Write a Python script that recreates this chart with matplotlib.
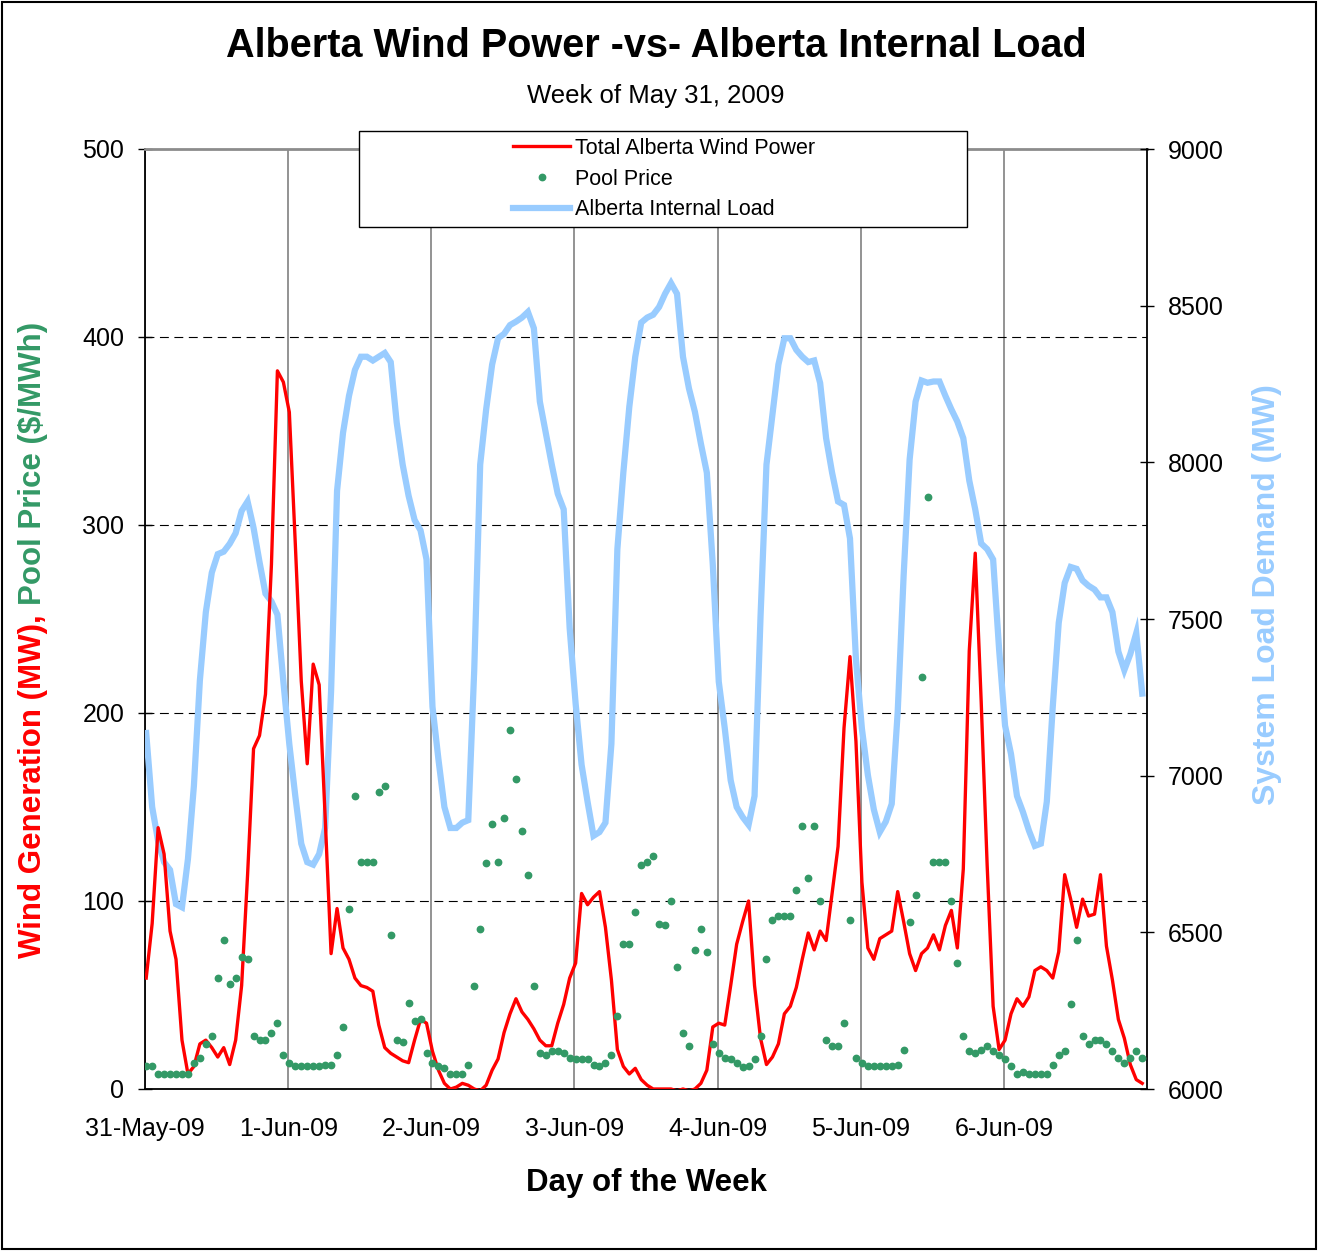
import matplotlib
matplotlib.use('Agg')
import matplotlib.pyplot as plt
import numpy as np
from matplotlib.patches import Rectangle
from matplotlib.lines import Line2D

plt.rcParams['font.family'] = ['Liberation Sans', 'DejaVu Sans']

W, H = 1318, 1251

day_labels = ['31-May-09', '1-Jun-09', '2-Jun-09', '3-Jun-09',
              '4-Jun-09', '5-Jun-09', '6-Jun-09']

# hourly values, 31 May 00:00 -> 6 Jun 23:00
wind = [59, 88, 139, 125, 84, 69, 26, 8, 12, 24, 26, 22, 17, 22, 13, 26, 55, 114, 181, 188, 210, 279, 382, 376,
        360, 290, 217, 173, 226, 215, 145, 72, 96, 75, 69, 59, 55, 54, 52, 34, 22, 19, 17, 15, 14, 26, 37, 35,
        20, 10, 3, 0, 1, 3, 2, 0, -1, 2, 10, 16, 30, 40, 48, 41, 37, 32, 26, 23, 23, 35, 45, 59,
        67, 104, 98, 102, 105, 86, 58, 21, 12, 8, 11, 5, 2, 0, 0, 0, 0, -1, 0, -1, 0, 3, 10, 33,
        35, 34, 55, 77, 89, 100, 55, 27, 13, 17, 24, 40, 44, 54, 69, 83, 74, 84, 79, 104, 129, 192, 230, 185,
        110, 75, 69, 80, 82, 84, 105, 89, 72, 63, 72, 75, 82, 74, 87, 95, 75, 117, 233, 285, 206, 119, 44, 21,
        26, 40, 48, 44, 49, 63, 65, 63, 59, 73, 114, 101, 86, 101, 92, 93, 114, 76, 58, 37, 27, 13, 5, 3]

price = [12, 12, 8, 8, 8, 8, 8, 8, 14, 16.5, 24, 28, 59, 79, 56, 59, 70, 69, 28, 26, 26, 30, 35, 18,
         14, 12, 12, 12, 12, 12, 13, 13, 18, 33, 96, 156, 121, 121, 121, 158, 161, 82, 26, 25, 46, 36, 37, 19,
         14, 12, 11, 8, 8, 8, 13, 55, 85, 120, 141, 121, 144, 191, 165, 137, 114, 55, 19, 18, 20, 20, 19, 16.5,
         16, 16, 16, 13, 12, 14, 18, 39, 77, 77, 94, 119, 121, 124, 88, 87, 100, 65, 30, 23, 74, 85, 73, 24,
         19, 16.5, 16, 14, 11.5, 12, 16, 28, 69, 90, 92, 92, 92, 106, 140, 112, 140, 100, 26, 23, 23, 35, 90, 16.5,
         14, 12, 12, 12, 12, 12, 13, 21, 89, 103, 219, 315, 121, 121, 121, 100, 67, 28, 20, 19, 21, 23, 20, 18,
         16, 12, 8, 9, 8, 8, 8, 8, 13, 18, 20, 45, 79, 28, 24, 26, 26, 24, 20, 16.5, 14, 16.5, 20, 16.5]

load = [7136, 6900, 6791, 6724, 6699, 6590, 6580, 6734, 6968, 7304, 7522, 7648, 7707, 7715, 7740, 7774, 7845, 7875, 7791, 7682, 7581, 7556, 7514, 7300,
        7100, 6935, 6783, 6724, 6716, 6750, 6833, 7270, 7909, 8094, 8212, 8295, 8337, 8337, 8325, 8337, 8349, 8320, 8127, 7993, 7893, 7816, 7783, 7690,
        7220, 7052, 6900, 6833, 6833, 6850, 6858, 7337, 7993, 8169, 8312, 8396, 8410, 8438, 8449, 8462, 8480, 8428, 8194, 8094, 7993, 7900, 7850, 7471,
        7230, 7035, 6917, 6808, 6820, 6850, 7102, 7723, 7967, 8177, 8337, 8446, 8462, 8471, 8496, 8538, 8572, 8538, 8337, 8236, 8161, 8060, 7967, 7673,
        7300, 7152, 6985, 6900, 6868, 6843, 6935, 7506, 7993, 8152, 8312, 8396, 8396, 8359, 8337, 8320, 8325, 8253, 8077, 7967, 7875, 7864, 7757, 7371,
        7150, 7002, 6892, 6820, 6853, 6910, 7203, 7640, 8009, 8194, 8261, 8254, 8258, 8258, 8212, 8169, 8130, 8077, 7942, 7850, 7741, 7723, 7690, 7404,
        7160, 7069, 6935, 6884, 6825, 6776, 6783, 6917, 7220, 7488, 7615, 7666, 7660, 7623, 7606, 7594, 7569, 7569, 7522, 7396, 7337, 7388, 7455, 7262]

hours = np.arange(len(wind)) + 0.2

RED = '#FF0000'
GREEN = '#339966'
BLUE = '#99CCFF'

fig = plt.figure(figsize=(W / 100, H / 100), dpi=100)
rect = [145 / W, 1 - 1089 / H, (1147 - 145) / W, (1089 - 149) / H]

# bottom axes: grid, spines, left ticks
ax = fig.add_axes(rect)
ax.set_xlim(0, 168)
ax.set_ylim(0, 500)
ax.set_xticks(np.arange(0, 168, 24))
ax.set_xticklabels(day_labels)
ax.set_yticks(np.arange(0, 501, 100))
ax.xaxis.grid(True, color='#808080', lw=1.2, ls='-')
ax.yaxis.grid(True, color='black', lw=0.8, ls=(0, (8, 5)))
ax.tick_params(axis='x', length=0, labelsize=18, pad=20)
ax.tick_params(axis='y', direction='inout', length=10, width=1, labelsize=18, pad=10)
ax.spines['left'].set_linewidth(1.3)
ax.spines['bottom'].set_linewidth(1.3)
ax.spines['top'].set_color('#8c8c8c')
ax.spines['top'].set_linewidth(2)
ax.spines['right'].set_visible(False)

# load on right axis
ax2 = ax.twinx()
ax2.set_ylim(6000, 9000)
ax2.set_yticks(np.arange(6000, 9001, 500))
ax2.plot(hours, load, color=BLUE, lw=4.5, solid_joinstyle='miter')
ax2.tick_params(axis='y', direction='inout', length=10, width=1, labelsize=18, pad=10)
for s in ['left', 'top', 'bottom']:
    ax2.spines[s].set_visible(False)
ax2.spines['right'].set_linewidth(1.3)
ax2.set_zorder(1)

# wind and price on top
ax3 = fig.add_axes(rect, sharex=ax, sharey=ax)
ax3.set_axis_off()
ax3.patch.set_visible(False)
ax3.plot(hours, wind, color=RED, lw=2.4)
ax3.plot(hours, price, ls='none', marker='o', markersize=4.6, color=GREEN)
ax3.set_zorder(2)

# titles
fig.text(656 / W, 1 - 57 / H, 'Alberta Wind Power -vs- Alberta Internal Load',
         ha='center', va='baseline', fontsize=28.5, fontweight='bold')
fig.text(656 / W, 1 - 103 / H, 'Week of May 31, 2009',
         ha='center', va='baseline', fontsize=18.5)
fig.text(646 / W, 1 - 1191 / H, 'Day of the Week',
         ha='center', va='baseline', fontsize=22.5, fontweight='bold')

# two-coloured left axis title
r = fig.canvas.get_renderer()
t1 = fig.text(33 / W, 1 - 958 / H, 'Wind Generation (MW),', color=RED,
              rotation=90, rotation_mode='anchor', ha='left', va='center',
              fontsize=22.5, fontweight='bold')
bb = t1.get_window_extent(renderer=r)
fig.text(33 / W, 1 - (958 - bb.height - 9) / H, 'Pool Price ($/MWh)', color=GREEN,
         rotation=90, rotation_mode='anchor', ha='left', va='center',
         fontsize=22.5, fontweight='bold')
fig.text(1267 / W, 1 - 595 / H, 'System Load Demand (MW)', color=BLUE,
         rotation=90, ha='center', va='center', fontsize=23, fontweight='bold')

# legend box
box = Rectangle((359 / W, 1 - 227 / H), (967 - 359) / W, (227 - 131) / H,
                transform=fig.transFigure, facecolor='white', edgecolor='black',
                lw=1, zorder=5)
fig.add_artist(box)
handles = [Line2D([], [], color=RED, lw=2.4),
           Line2D([], [], ls='none', marker='o', markersize=4.6, color=GREEN),
           Line2D([], [], color=BLUE, lw=4.5)]
leg = fig.legend(handles, ['Total Alberta Wind Power', 'Pool Price', 'Alberta Internal Load'],
                 loc='upper left', bbox_to_anchor=(513 / W, 1 - 138 / H),
                 frameon=False, fontsize=15.5, handlelength=2.65, handletextpad=0.25,
                 labelspacing=0.45, borderpad=0, borderaxespad=0)
leg.set_zorder(6)

# outer border
fig.add_artist(Rectangle((2 / W, 2 / H), 1314 / W, 1247 / H, transform=fig.transFigure,
                         fill=False, edgecolor='black', lw=1.5, zorder=7))

fig.savefig('out.png', dpi=100)
